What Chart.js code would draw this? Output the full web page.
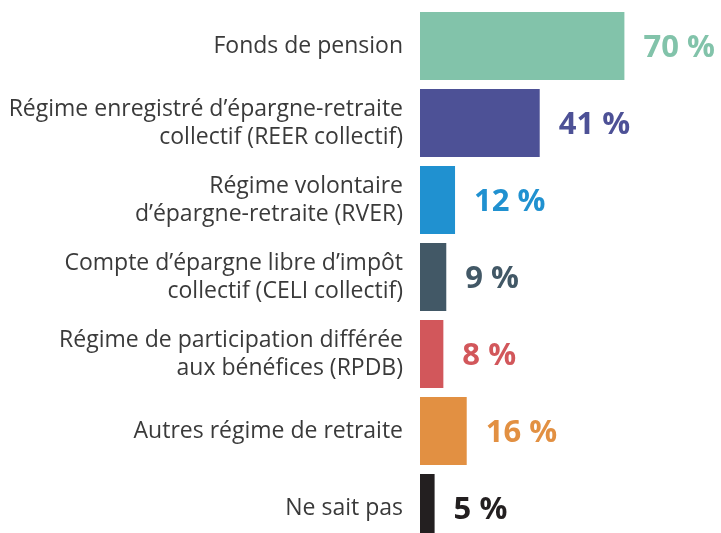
<!DOCTYPE html>
<html>
<head>
<meta charset="utf-8">
<script src="https://cdn.jsdelivr.net/npm/chart.js@4"></script>
<style>
  html, body { margin: 0; padding: 0; background: #fff; overflow: hidden; }
  #wrap { width: 721px; height: 550px; }
</style>
</head>
<body>
<div id="wrap"><canvas id="myChart"></canvas></div>
<script>
// categories (deux lignes quand c'est long)
const categories = [
  ['Fonds de pension'],
  ['Régime enregistré d’épargne-retraite', 'collectif (REER collectif)'],
  ['Régime volontaire', 'd’épargne-retraite (RVER)'],
  ['Compte d’épargne libre d’impôt', 'collectif (CELI collectif)'],
  ['Régime de participation différée', 'aux bénéfices (RPDB)'],
  ['Autres régime de retraite'],
  ['Ne sait pas']
];
const values = [70, 41, 12, 9, 8, 16, 5];
const barColors = ['#82c3aa', '#4d5196', '#2091d0', '#425866', '#d2575b', '#e29042', '#231f20'];

// les pourcentages à droite des barres
const valueLabels = {
  id: 'valueLabels',
  afterDatasetsDraw(chart) {
    const ctx = chart.ctx;
    const meta = chart.getDatasetMeta(0);
    ctx.save();
    ctx.font = 'bold 31px "Open Sans"';
    ctx.textBaseline = 'middle';
    ctx.textAlign = 'left';
    meta.data.forEach((bar, i) => {
      ctx.fillStyle = barColors[i];
      ctx.fillText(values[i] + ' %', bar.x + 19, bar.y + 2);
    });
    ctx.restore();
  }
};

const ctx = document.getElementById('myChart');

var chart = new Chart(ctx, {
  type: 'bar',
  data: {
    labels: categories,
    datasets: [{
      data: values,
      backgroundColor: barColors,
      borderWidth: 0,
      barPercentage: 0.88,
      categoryPercentage: 1
    }]
  },
  options: {
    indexAxis: 'y',
    responsive: true,
    maintainAspectRatio: false,
    animation: false,
    plugins: {
      legend: false,
      tooltip: false
    },
    layout: {
      padding: { top: 7.5, bottom: 3.5, left: 0, right: 9 }
    },
    scales: {
      x: {
        min: 0,
        max: 100,
        display: false
      },
      y: {
        grid: { display: false, drawTicks: false },
        border: { display: false },
        afterFit: (scale) => {
          scale.width = 420;
          scale.paddingTop = 0;
          scale.paddingBottom = 0;
        },
        ticks: {
          padding: 17,
          color: '#3a3a3a',
          font: { family: '"Open Sans"', size: 23, weight: 400, lineHeight: 1.22 }
        }
      }
    }
  },
  plugins: [valueLabels]
});
</script>
</body>
</html>
